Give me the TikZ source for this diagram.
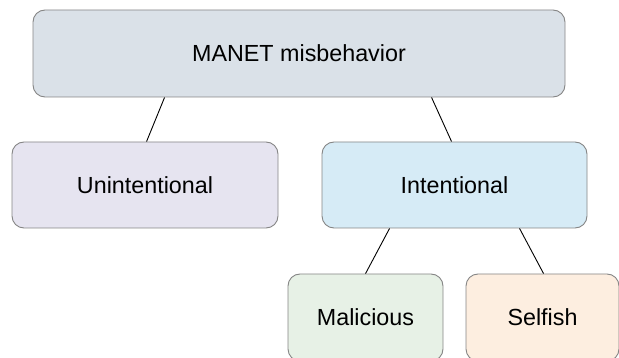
\documentclass[tikz,border=0pt]{standalone}
\usepackage{fontspec}
\setmainfont{Liberation Sans}
\definecolor{cTop}{HTML}{DAE1E8}
\definecolor{cUn}{HTML}{E6E4F0}
\definecolor{cIn}{HTML}{D6EBF6}
\definecolor{cMal}{HTML}{E7F1E6}
\definecolor{cSel}{HTML}{FDEEE0}
\definecolor{cBorder}{HTML}{858585}
\begin{document}
\begin{tikzpicture}[x=1pt,y=-1pt,
  box/.style={draw=cBorder, line width=0.9pt, rounded corners=12pt, inner sep=0pt, align=center,
    font=\fontsize{23.3}{28}\selectfont},
  link/.style={draw=black, line width=0.9pt}]
\useasboundingbox (0,0) rectangle (619,358);
\node[box, fill=cTop, minimum width=532pt, minimum height=87pt] (top) at (299,53.5) {MANET misbehavior};
\node[box, fill=cUn, minimum width=266pt, minimum height=86pt] (unint) at (145,185) {Unintentional};
\node[box, fill=cIn, minimum width=265pt, minimum height=86pt] (int) at (454.5,185) {Intentional};
\node[box, fill=cMal, minimum width=155pt, minimum height=87pt] (mal) at (365.5,317.5) {Malicious};
\node[box, fill=cSel, minimum width=153pt, minimum height=87pt] (self) at (542.5,317.5) {Selfish};
\draw[link] ([xshift=132pt]top.south west) -- ([xshift=135pt]unint.north west);
\draw[link] ([xshift=399pt]top.south west) -- ([xshift=130pt]int.north west);
\draw[link] ([xshift=68pt]int.south west) -- ([xshift=78pt]mal.north west);
\draw[link] ([xshift=198pt]int.south west) -- ([xshift=78pt]self.north west);
\end{tikzpicture}
\end{document}
